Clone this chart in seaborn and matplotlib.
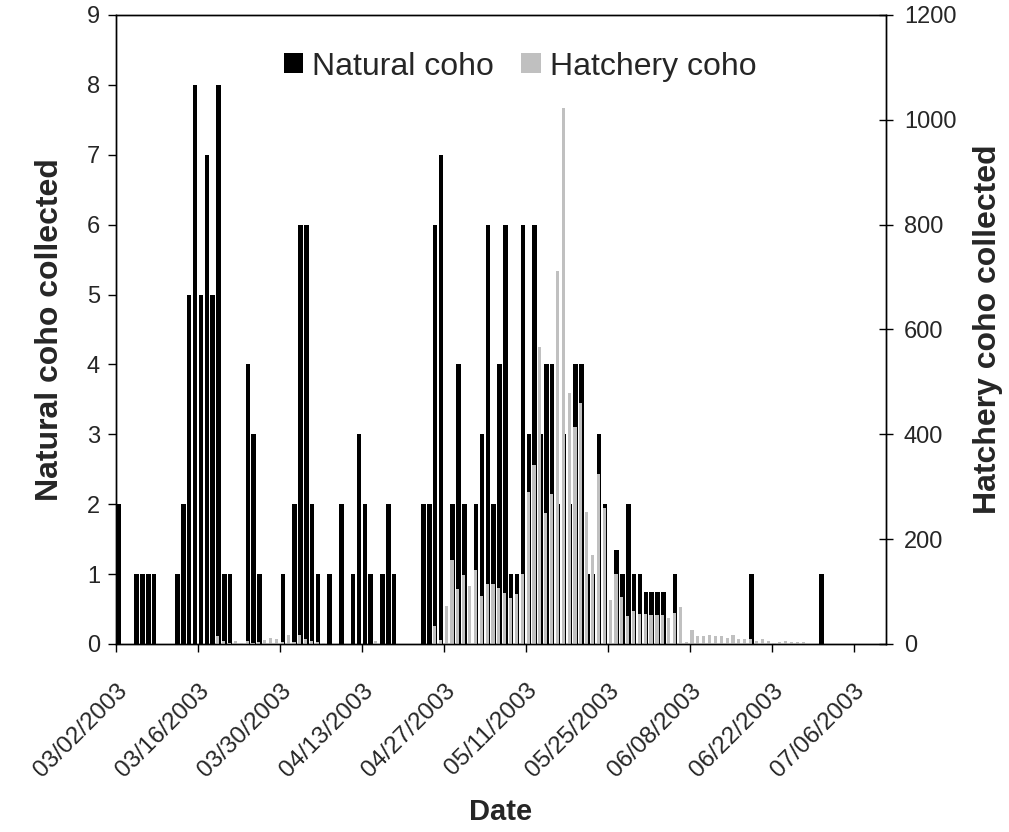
import numpy as np
import pandas as pd
import matplotlib
matplotlib.use("Agg")
import matplotlib.pyplot as plt
import matplotlib.transforms as mtransforms
import seaborn as sns

# Daily collections starting 03/02/2003
start_date = "2003-03-02"

natural_coho = [
    2, 0, 0, 1, 1, 1, 1, 0, 0, 0,          # day 0-9
    1, 2, 5, 8, 5, 7, 5, 8, 1, 1,          # 10-19
    0, 0, 4, 3, 1, 0, 0, 0, 1, 0,          # 20-29
    2, 6, 6, 2, 1, 0, 1, 0, 2, 0,          # 30-39
    1, 3, 2, 1, 0, 1, 2, 1, 0, 0,          # 40-49
    0, 0, 2, 2, 6, 7, 0, 2, 4, 2,          # 50-59
    0, 2, 3, 6, 2, 4, 6, 1, 1, 6,          # 60-69
    3, 6, 3, 4, 4, 2, 3, 2, 4, 4,          # 70-79
    1, 1, 3, 2, 0, 1.34, 1, 2, 1, 1,       # 80-89
    0.75, 0.75, 0.75, 0.75, 0, 1, 0, 0, 0, 0,  # 90-99
    0, 0, 0, 0, 0, 0, 0, 0, 1, 0,          # 100-109
    0, 0, 0, 0, 0, 0, 0, 0, 0, 0,          # 110-119
    1, 0, 0, 0, 0, 0,                      # 120-125
]

hatchery_coho = [
    0, 0, 0, 0, 0, 0, 0, 0, 0, 0,                  # day 0-9
    0, 0, 0, 0, 0, 0, 0, 15, 5, 2,                 # 10-19
    6, 2, 6, 1, 4, 8, 11, 9, 3, 17,                # 20-29
    4, 17, 9, 6, 4, 2, 0, 0, 0, 0,                 # 30-39
    0, 0, 0, 0, 6, 0, 0, 0, 0, 0,                  # 40-49
    0, 0, 0, 0, 34, 8, 72, 160, 105, 131,          # 50-59
    110, 141, 91, 114, 114, 107, 98, 87, 96, 133,  # 60-69
    289, 342, 566, 250, 287, 711, 1022, 479, 413, 459,  # 70-79
    252, 169, 325, 259, 84, 133, 90, 53, 63, 57,   # 80-89
    57, 55, 55, 55, 50, 59, 70, 4, 27, 15,         # 90-99
    16, 18, 16, 16, 12, 18, 10, 10, 10, 5,         # 100-109
    10, 6, 1, 3, 5, 3, 3, 3, 0, 0,                 # 110-119
    0, 0, 0, 0, 0, 0,                              # 120-125
]

tick_labels = ["03/02/2003", "03/16/2003", "03/30/2003", "04/13/2003",
               "04/27/2003", "05/11/2003", "05/25/2003", "06/08/2003",
               "06/22/2003", "07/06/2003"]

dates = pd.date_range(start_date, periods=len(natural_coho), freq="D")
day = (dates - dates[0]).days.to_numpy()

df = pd.DataFrame({
    "date": dates,
    "natural": natural_coho,
    "hatchery": hatchery_coho,
})
# each day occupies one unit; natural bars fill most of it,
# hatchery bars share the left edge and are narrower
nat_width, hat_width, lead = 0.77, 0.54, 0.12
df["x_nat"] = day + lead + nat_width / 2
df["x_hat"] = day + lead + hat_width / 2

sns.set_style("ticks")
plt.rcParams["font.family"] = ["Liberation Sans", "DejaVu Sans"]

fig = plt.figure(figsize=(10.09, 8.32), dpi=100)
ax = fig.add_axes([0.115, 0.226, 0.763, 0.756])
ax2 = ax.twinx()

sns.barplot(data=df, x="x_nat", y="natural", native_scale=True,
            width=nat_width, color="#000000", saturation=1,
            errorbar=None, linewidth=0, ax=ax, label="Natural coho")
sns.barplot(data=df, x="x_hat", y="hatchery", native_scale=True,
            width=hat_width, color="#C0C0C0", saturation=1,
            errorbar=None, linewidth=0, ax=ax2, label="Hatchery coho")

ax.set_xlim(0, 131.5)
ax.set_ylim(0, 9)
ax2.set_ylim(0, 1200)
ax.set_yticks(np.arange(0, 10, 1))
ax2.set_yticks(np.arange(0, 1201, 200))
ax.set_xticks(np.arange(0, 14 * len(tick_labels), 14))
ax.set_xticklabels(tick_labels, rotation=45, ha="right", va="top",
                   rotation_mode="anchor", fontsize=17.5)
shift = mtransforms.ScaledTranslation(-0.085, 0, fig.dpi_scale_trans)
for lbl in ax.get_xticklabels():
    lbl.set_transform(lbl.get_transform() + shift)

for a in (ax, ax2):
    for s in a.spines.values():
        s.set_color("black")
        s.set_linewidth(1.0)

ax.tick_params(axis="y", direction="out", length=5.5, width=1, left=True,
               labelsize=17, pad=6, color="black")
ax.tick_params(axis="x", direction="out", length=5.5, width=1, bottom=True,
               pad=20, color="black")
ax2.tick_params(axis="y", direction="inout", length=10, width=1, right=True,
                labelsize=17, pad=8, color="black")

ax.set_xlabel("Date", fontsize=21, fontweight="bold", labelpad=12)
ax.set_ylabel("Natural coho collected", fontsize=23, fontweight="bold",
              labelpad=16)
ax2.set_ylabel("Hatchery coho collected", fontsize=23, fontweight="bold",
               labelpad=12)

h1, l1 = ax.get_legend_handles_labels()
h2, l2 = ax2.get_legend_handles_labels()
ax2.legend(h1 + h2, l1 + l2, loc="center", bbox_to_anchor=(0.525, 0.918),
           ncol=2, frameon=False, fontsize=23, handlelength=0.6,
           handleheight=0.6, handletextpad=0.3, columnspacing=0.85)
if ax.get_legend() is not None:
    ax.get_legend().remove()

fig.savefig("out.png", dpi=100)
